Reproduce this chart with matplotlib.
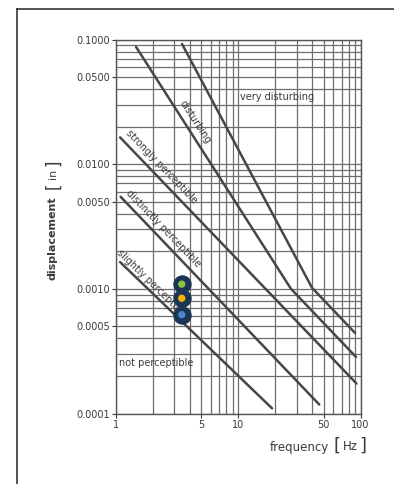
import matplotlib
matplotlib.use('Agg')
import matplotlib.pyplot as plt
from matplotlib.lines import Line2D
from matplotlib.ticker import FixedLocator, FixedFormatter, LogLocator, NullFormatter

# threshold lines, frequency [Hz] vs displacement [in]
slight_f = [1.08, 18.9]
slight_d = [0.00164, 0.000110]
distinct_f = [1.09, 46.0]
distinct_d = [0.00548, 0.000118]
strong_f = [1.08, 92.7]
strong_d = [0.0164, 0.000174]
disturb_f = [1.46, 27.0, 91.9]
disturb_d = [0.0871, 0.00100, 0.000284]
very_f = [3.47, 40.1, 90.2]
very_d = [0.092, 0.00102, 0.000443]

# the three marked points
pt_f = [3.45, 3.45, 3.45]
pt_d = [0.00109, 0.00084, 0.00062]
pt_colors = ['#8cc63f', '#f7b500', '#4a86c8']

y_ticks = [0.1, 0.05, 0.01, 0.005, 0.001, 0.0005, 0.0001]
y_labels = ['0.1000', '0.0500', '0.0100', '0.0050', '0.0010', '0.0005', '0.0001']
x_ticks = [1, 5, 10, 50, 100]
x_labels = ['1', '5', '10', '50', '100']

W, H = 394, 484
INK = '#3a3a3a'
GRID = '#6e6e6e'


def fx(px):
    return px / W


def fy(py):
    return 1 - py / H


fig = plt.figure(figsize=(W / 100, H / 100), dpi=100)
ax = fig.add_axes([fx(116), fy(413.5), (360.5 - 116) / W, (413.5 - 39.5) / H])
ax.set_xscale('log')
ax.set_yscale('log')
ax.set_xlim(1, 100)
ax.set_ylim(0.0001, 0.1)

ax.xaxis.set_major_locator(FixedLocator(x_ticks))
ax.xaxis.set_major_formatter(FixedFormatter(x_labels))
ax.xaxis.set_minor_locator(LogLocator(base=10, subs=range(1, 10)))
ax.xaxis.set_minor_formatter(NullFormatter())
ax.yaxis.set_major_locator(FixedLocator(y_ticks))
ax.yaxis.set_major_formatter(FixedFormatter(y_labels))
ax.yaxis.set_minor_locator(LogLocator(base=10, subs=range(1, 10)))
ax.yaxis.set_minor_formatter(NullFormatter())

ax.grid(which='both', color=GRID, lw=0.9)
ax.tick_params(which='major', direction='out', length=3, width=0.8, color=INK,
               labelsize=7, labelcolor=INK, pad=1.5)
ax.tick_params(which='minor', length=0)
for s in ax.spines.values():
    s.set_color('#555555')
    s.set_linewidth(1.0)

for f, d in [(slight_f, slight_d), (distinct_f, distinct_d), (strong_f, strong_d),
             (disturb_f, disturb_d), (very_f, very_d)]:
    ax.plot(f, d, color='#474747', lw=1.8, solid_capstyle='round', zorder=3)

lab = dict(fontsize=7, color=INK, ha='center', va='center', rotation_mode='anchor', zorder=4)
ax.text(4.47, 0.0216, 'disturbing', rotation=-57, **lab)
ax.text(2.36, 0.00957, 'strongly perceptible', rotation=-46, **lab)
ax.text(2.44, 0.00306, 'distinctly perceptible', rotation=-46, **lab)
ax.text(1.97, 0.00110, 'slightly perceptible', rotation=-44, **lab)
ax.text(10.3, 0.0346, 'very disturbing', fontsize=7, color=INK, ha='left', va='center')
ax.text(1.05, 0.000254, 'not perceptible', fontsize=7, color=INK, ha='left', va='center')

ax.scatter(pt_f, pt_d, s=150, color='#1c3555', zorder=5)
ax.scatter(pt_f, pt_d, s=18, color=pt_colors, zorder=6)

# axis titles with tall brackets
fig.text(fx(53), fy(238), 'displacement', rotation=90, fontsize=8, fontweight='bold',
         color=INK, ha='center', va='center')
fig.text(fx(53), fy(186), '[', rotation=90, fontsize=12, color=INK, ha='center', va='center')
fig.text(fx(53), fy(174), 'in', rotation=90, fontsize=8, color=INK, ha='center', va='center')
fig.text(fx(53), fy(163), ']', rotation=90, fontsize=12, color=INK, ha='center', va='center')

fig.text(fx(329), fy(447), 'frequency', fontsize=8.5, color=INK, ha='right', va='center')
fig.text(fx(337), fy(446), '[', fontsize=13, color=INK, ha='center', va='center')
fig.text(fx(350), fy(447), 'Hz', fontsize=8.5, color=INK, ha='center', va='center')
fig.text(fx(363), fy(446), ']', fontsize=13, color=INK, ha='center', va='center')

# outer frame (left and top edges visible)
fig.add_artist(Line2D([fx(17), fx(17)], [0, fy(9)], color='#333333', lw=1.2))
fig.add_artist(Line2D([fx(17), 1], [fy(9), fy(9)], color='#333333', lw=1.2))

fig.savefig('out.png', dpi=100)
